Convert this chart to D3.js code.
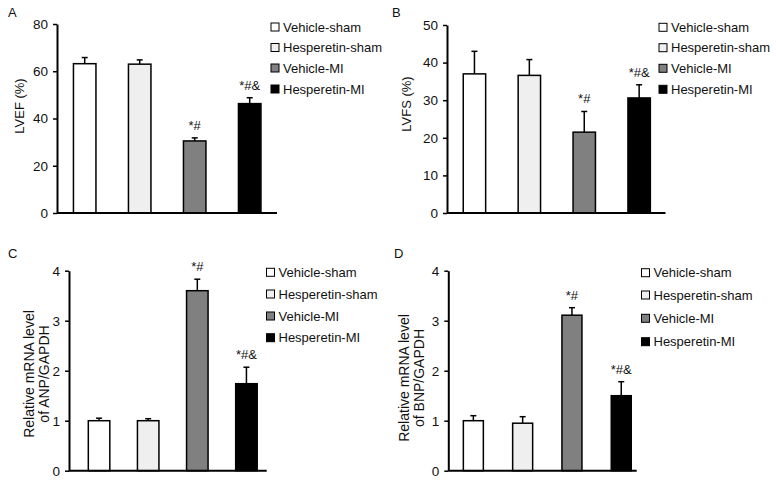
<!DOCTYPE html>
<html><head><meta charset="utf-8">
<script src="https://cdn.jsdelivr.net/npm/d3@7"></script>
<style>
body{margin:0;background:#fff;}
svg{display:block;font-family:Arial,"Liberation Sans",sans-serif;}
</style></head>
<body>
<svg id="chart" width="776" height="481"></svg>
<script>
// ---- data ----
const groups = ["Vehicle-sham", "Hesperetin-sham", "Vehicle-MI", "Hesperetin-MI"];
const groupColors = ["#ffffff", "#efefef", "#808080", "#000000"];
const lvefMean = [63.2, 63.0, 30.5, 46.3];
const lvefErr  = [2.6, 1.8, 1.3, 2.5];
const lvfsMean = [37.0, 36.6, 21.5, 30.6];
const lvfsErr  = [6.0, 4.2, 5.5, 3.5];
const anpMean  = [1.00, 1.00, 3.60, 1.74];
const anpErr   = [0.05, 0.04, 0.23, 0.33];
const bnpMean  = [1.00, 0.95, 3.11, 1.50];
const bnpErr   = [0.10, 0.13, 0.15, 0.28];
const sigLabels = ["", "", "*#", "*#&"];
const lvefTicks = [0, 20, 40, 60, 80];
const lvfsTicks = [0, 10, 20, 30, 40, 50];
const mrnaTicks = [0, 1, 2, 3, 4];

// ---- layout ----
const panels = [
  {letter:"A", lx:8, ly:17, mean:lvefMean, err:lvefErr, ticks:lvefTicks, ymax:80,
   ax:57, y0:213, y1:24, xEnd:277, band:[57.2,277.2], bw:22.5,
   ylab:["LVEF (%)"], ylabX:[19], ylabY:106, legX:271, legY:[27,47.5,68,89]},
  {letter:"B", lx:392, ly:17, mean:lvfsMean, err:lvfsErr, ticks:lvfsTicks, ymax:50,
   ax:447, y0:213, y1:25, xEnd:665.5, band:[447,666.6], bw:22.4,
   ylab:["LVFS (%)"], ylabX:[406], ylabY:104, legX:659, legY:[27.3,47.7,68.3,89.3]},
  {letter:"C", lx:8, ly:258, mean:anpMean, err:anpErr, ticks:mrnaTicks, ymax:4,
   ax:69, y0:470.7, y1:270.7, xEnd:266.7, band:[74.5,271], bw:21.5,
   ylab:["Relative mRNA level","of ANP/GAPDH"], ylabX:[28.5,43.5], ylabY:374, legX:266.5, legY:[272.3,294,316,337.7]},
  {letter:"D", lx:394, ly:258, mean:bnpMean, err:bnpErr, ticks:mrnaTicks, ymax:4,
   ax:448.3, y0:470.7, y1:270.7, xEnd:636.7, band:[448.7,645.9], bw:20,
   ylab:["Relative mRNA level","of BNP/GAPDH"], ylabX:[404,419], ylabY:378, legX:641.5, legY:[272.7,295,318.3,341.7]}
];

const svg = d3.select("#chart");

panels.forEach(p => {
  const g = svg.append("g");
  const y = d3.scaleLinear().domain([0, p.ymax]).range([p.y0, p.y1]);
  const x = d3.scaleBand().domain(groups).range(p.band).paddingInner(0).paddingOuter(0);

  // panel letter
  g.append("text").attr("x", p.lx).attr("y", p.ly).attr("font-size", 13).attr("fill","#111").text(p.letter);

  // bars
  groups.forEach((name, i) => {
    const cx = x(name) + x.bandwidth()/2;
    const top = y(p.mean[i]);
    const etop = y(p.mean[i] + p.err[i]);
    // error bar (upper only)
    g.append("line").attr("x1", cx).attr("x2", cx).attr("y1", top).attr("y2", etop)
      .attr("stroke", "#000").attr("stroke-width", 1.5);
    g.append("line").attr("x1", cx-3).attr("x2", cx+3).attr("y1", etop).attr("y2", etop)
      .attr("stroke", "#000").attr("stroke-width", 1.5);
    g.append("rect").attr("x", cx - p.bw/2).attr("y", top)
      .attr("width", p.bw).attr("height", p.y0 - top)
      .attr("fill", groupColors[i]).attr("stroke", "#000").attr("stroke-width", 1.5);
    if (sigLabels[i]) {
      g.append("text").attr("x", cx).attr("y", etop - 8).attr("text-anchor","middle")
        .attr("font-size", 13).attr("fill","#111").text(sigLabels[i]);
    }
  });

  // y axis
  const yAxis = d3.axisLeft(y).tickValues(p.ticks).tickFormat(d3.format("d"))
    .tickSize(4).tickSizeOuter(0).tickPadding(5);
  const ag = g.append("g").attr("transform", `translate(${p.ax},0)`).call(yAxis);
  ag.attr("font-size", 13).attr("font-family", "Arial,'Liberation Sans',sans-serif");
  ag.select(".domain").attr("stroke","#000").attr("stroke-width",2);
  ag.selectAll(".tick line").attr("stroke","#000").attr("stroke-width",1.5);
  ag.selectAll(".tick text").attr("font-size",13.5).attr("fill","#111");

  // x baseline
  g.append("line").attr("x1", p.ax).attr("x2", p.xEnd).attr("y1", p.y0).attr("y2", p.y0)
    .attr("stroke","#000").attr("stroke-width",2);

  // y label
  p.ylab.forEach((t, k) => {
    g.append("text").attr("transform", `translate(${p.ylabX[k]},${p.ylabY}) rotate(-90)`)
      .attr("text-anchor","middle").attr("dominant-baseline","central")
      .attr("font-size", p.ylab.length > 1 ? 14 : 13).attr("fill","#111").text(t);
  });

  // legend
  groups.forEach((name, i) => {
    g.append("rect").attr("x", p.legX).attr("y", p.legY[i]-4).attr("width", 8).attr("height", 8)
      .attr("fill", groupColors[i]).attr("stroke","#000").attr("stroke-width",1);
    g.append("text").attr("x", p.legX + 12).attr("y", p.legY[i]).attr("dominant-baseline","central")
      .attr("font-size", 13).attr("fill","#111").text(name);
  });
});
</script>
</body></html>
